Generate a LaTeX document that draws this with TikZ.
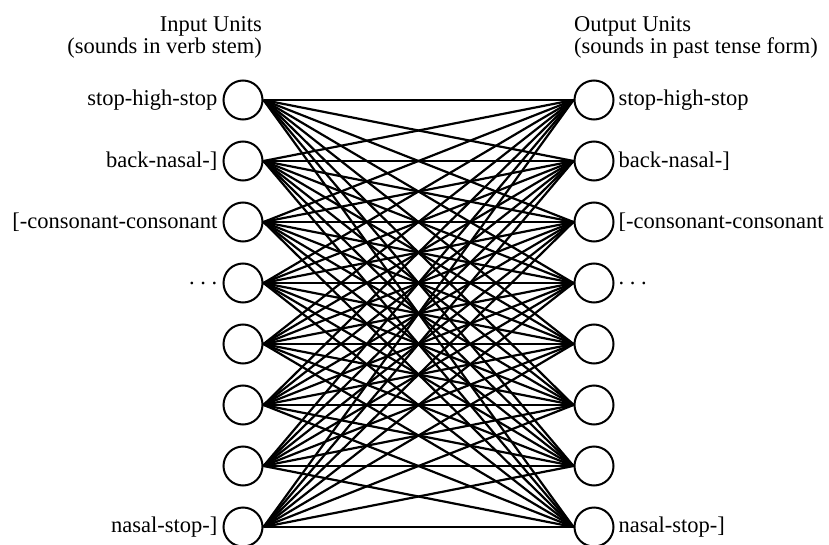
\documentclass[tikz,border=0pt]{standalone}
\usepackage{fontspec}
\setmainfont{Liberation Serif}

\begin{document}
\begin{tikzpicture}[x=1pt, y=-1pt, every node/.style={font=\fontsize{22.5}{20}\selectfont}]
\tikzset{
  unit/.style={circle, draw, line width=2pt, minimum size=39pt, inner sep=0pt},
  link/.style={line width=2.2pt},
  tag/.style={inner sep=0pt}
}
\useasboundingbox (0,0) rectangle (829,545);

% Input and output units
\foreach \i in {1,...,8} {
  \node[unit] (in\i) at (243, 39+61*\i) {};
  \node[unit] (out\i) at (594, 39+61*\i) {};
}

% Headings
\node[tag, anchor=south east, align=right] (inhead) at (262,58) {Input Units\\(sounds in verb stem)};
\node[tag, anchor=south west, align=left] (outhead) at (574,58) {Output Units\\(sounds in past tense form)};

% Input labels
\node[tag, anchor=east] (inlab1) at ([xshift=-5pt]in1.west) {stop-high-stop};
\node[tag, anchor=east] (inlab2) at ([xshift=-5pt]in2.west) {back-nasal-]};
\node[tag, anchor=east] (inlab3) at ([xshift=-5pt]in3.west) {[-consonant-consonant};
\node[tag, anchor=east] (inlab4) at ([xshift=-5pt]in4.west) {.\ .\ .};
\node[tag, anchor=east] (inlab8) at ([xshift=-5pt]in8.west) {nasal-stop-]};

% Output labels
\node[tag, anchor=west] (outlab1) at ([xshift=4pt]out1.east) {stop-high-stop};
\node[tag, anchor=west] (outlab2) at ([xshift=4pt]out2.east) {back-nasal-]};
\node[tag, anchor=west] (outlab3) at ([xshift=4pt]out3.east) {[-consonant-consonant};
\node[tag, anchor=west] (outlab4) at ([xshift=4pt]out4.east) {.\ .\ .};
\node[tag, anchor=west] (outlab8) at ([xshift=4pt]out8.east) {nasal-stop-]};

% Every input unit feeds every output unit
\foreach \i in {1,...,8}
  \foreach \j in {1,...,8}
    \draw[link] (in\i.east) -- (out\j.west);

\end{tikzpicture}
\end{document}
